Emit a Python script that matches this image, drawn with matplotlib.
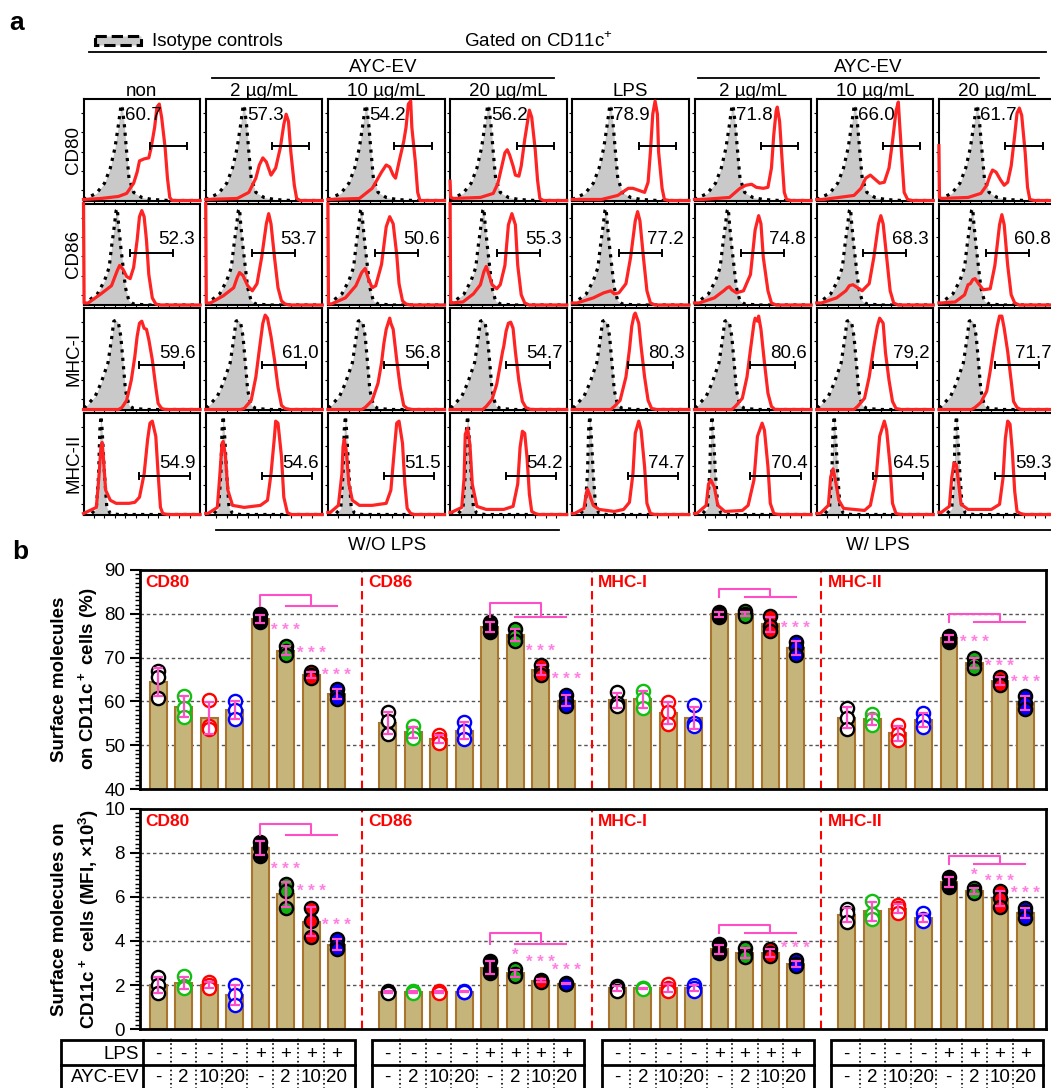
import numpy as np
import matplotlib
matplotlib.use('Agg')
import matplotlib.pyplot as plt
from matplotlib.patches import Rectangle
from matplotlib.ticker import MultipleLocator

plt.rcParams['font.family'] = ['Liberation Sans', 'DejaVu Sans']
plt.rcParams['mathtext.fontset'] = 'custom'
plt.rcParams['mathtext.rm'] = 'Liberation Sans'
plt.rcParams['mathtext.bf'] = 'Liberation Sans:bold'

W, H = 1051, 1088

# ---------------- panel a: flow histograms ----------------
col_labels = ['non', '2 µg/mL', '10 µg/mL', '20 µg/mL', 'LPS', '2 µg/mL', '10 µg/mL', '20 µg/mL']
row_labels = ['CD80', 'CD86', 'MHC-I', 'MHC-II']
gated_pct = [[60.7, 57.3, 54.2, 56.2, 78.9, 71.8, 66.0, 61.7],
             [52.3, 53.7, 50.6, 55.3, 77.2, 74.8, 68.3, 60.8],
             [59.6, 61.0, 56.8, 54.7, 80.3, 80.6, 79.2, 71.7],
             [54.9, 54.6, 51.5, 54.2, 74.7, 70.4, 64.5, 59.3]]

# isotype control curves, (x %, y % of max)
iso_cd80 = [(0, 1), (11, 7), (18, 17), (23, 32), (27, 52), (30, 75), (32, 92), (33, 94), (35, 75),
            (37, 48), (39, 22), (43, 8), (50, 3), (59, 1), (73, 0), (100, 0)]
iso_cd86 = [(0, 0), (4, 4), (12, 11), (18, 24), (22, 37), (24, 57), (26, 74), (28, 93), (29, 95),
            (30, 80), (32, 57), (34, 37), (36, 17), (39, 4), (43, 1), (55, 0), (100, 0)]
iso_mhc1 = [(0, 2), (2, 3), (10, 13), (15, 26), (21, 46), (24, 69), (26, 87), (28, 88), (30, 85),
            (32, 72), (34, 46), (36, 19), (39, 4), (43, 1), (55, 0), (100, 0)]
iso_mhc2 = [(0, 0), (7, 1), (11, 6), (13, 40), (14, 83), (15, 97), (16, 83), (18, 40), (20, 7),
            (23, 1), (30, 0), (100, 0)]

# stained samples, one curve per column
red_cd80 = [
    [(0, 1), (15, 2), (30, 4), (37, 7), (43, 17), (46, 28), (48, 39), (52, 41), (56, 42), (58, 52),
     (61, 72), (63, 92), (65, 95), (67, 82), (70, 52), (72, 22), (74, 3), (76, 0), (100, 0)],
    [(0, 1), (27, 2), (37, 8), (43, 22), (46, 35), (49, 42), (52, 38), (56, 25), (60, 32), (64, 52),
     (67, 75), (69, 85), (71, 78), (73, 48), (76, 15), (78, 2), (81, 0), (100, 0)],
    [(0, 1), (27, 2), (38, 12), (46, 28), (50, 35), (53, 33), (56, 25), (58, 22), (61, 38), (65, 58),
     (67, 72), (69, 95), (71, 98), (72, 72), (75, 38), (77, 8), (79, 0), (100, 0)],
    [(0, 19), (0.5, 3), (3, 2), (26, 3), (37, 7), (41, 17), (44, 32), (47, 47), (49, 50), (51, 45),
     (54, 34), (56, 25), (59, 24), (61, 34), (64, 60), (67, 82), (68, 89), (70, 82), (73, 50),
     (75, 20), (77, 2), (80, 0), (100, 0)],
    [(0, 1), (25, 1), (39, 5), (48, 12), (52, 12), (57, 10), (62, 8), (65, 18), (67, 48), (69, 85),
     (71, 98), (73, 85), (74, 48), (77, 12), (79, 1), (83, 0), (100, 0)],
    [(0, 1), (7, 1), (30, 3), (39, 12), (44, 15), (49, 16), (53, 13), (59, 12), (63, 13), (66, 32),
     (68, 65), (70, 88), (71, 92), (73, 78), (75, 42), (77, 8), (79, 1), (83, 0), (100, 0)],
    [(0, 1), (6, 1), (32, 5), (38, 12), (42, 22), (46, 25), (49, 22), (54, 17), (58, 18), (62, 32),
     (65, 58), (68, 88), (70, 97), (71, 78), (73, 42), (75, 8), (78, 1), (82, 0), (100, 0)],
    [(0, 54), (0.5, 3), (2, 2), (25, 3), (36, 7), (41, 15), (44, 25), (46, 30), (49, 28), (53, 20),
     (56, 15), (59, 18), (62, 34), (65, 64), (67, 86), (69, 91), (71, 84), (74, 47), (76, 13),
     (78, 1), (82, 0), (100, 0)],
]
red_cd86 = [
    [(0, 100), (0.5, 2), (4, 2), (15, 11), (24, 19), (29, 34), (31, 39), (34, 35), (37, 28), (40, 26),
     (43, 37), (46, 64), (48, 87), (50, 93), (52, 87), (54, 64), (56, 30), (59, 7), (62, 1), (66, 0),
     (100, 0)],
    [(0, 100), (0.5, 2), (4, 2), (15, 9), (24, 17), (27, 27), (29, 32), (32, 29), (36, 19), (40, 14),
     (44, 21), (48, 47), (52, 80), (54, 90), (56, 80), (59, 47), (62, 17), (65, 4), (68, 1), (72, 0),
     (100, 0)],
    [(0, 100), (0.5, 1), (3, 1), (15, 7), (24, 19), (29, 32), (32, 36), (35, 25), (38, 17), (41, 19),
     (46, 40), (50, 77), (53, 87), (56, 80), (59, 50), (61, 21), (64, 4), (67, 1), (71, 0), (100, 0)],
    [(0, 100), (0.5, 2), (1, 2), (11, 3), (20, 11), (26, 20), (29, 33), (31, 38), (33, 31), (36, 20),
     (40, 16), (43, 20), (47, 39), (50, 79), (53, 90), (56, 79), (58, 39), (61, 10), (64, 2), (68, 0),
     (100, 0)],
    [(0, 2), (4, 2), (18, 7), (27, 12), (33, 14), (36, 11), (40, 12), (46, 21), (50, 47), (54, 83),
     (56, 92), (58, 83), (61, 47), (64, 14), (67, 2), (71, 0), (100, 0)],
    [(0, 2), (4, 2), (17, 7), (25, 14), (28, 17), (30, 18), (32, 15), (36, 12), (42, 14), (48, 30),
     (52, 74), (55, 88), (57, 80), (59, 47), (63, 14), (66, 2), (70, 0), (100, 0)],
    [(0, 2), (4, 2), (17, 7), (25, 14), (28, 19), (31, 20), (35, 17), (39, 14), (45, 21), (49, 47),
     (53, 80), (55, 88), (57, 80), (60, 47), (63, 14), (66, 2), (70, 0), (100, 0)],
    [(0, 2), (2, 2), (14, 3), (22, 10), (25, 20), (27, 21), (29, 25), (31, 26), (34, 21), (38, 15),
     (44, 16), (48, 39), (52, 79), (54, 89), (56, 79), (59, 39), (62, 10), (65, 2), (69, 0), (100, 0)],
]
red_mhc1 = [
    [(0, 0), (30, 0), (33, 2), (37, 9), (41, 29), (44, 52), (46, 72), (48, 85), (50, 87), (52, 80),
     (54, 79), (56, 69), (59, 49), (62, 22), (64, 6), (67, 1), (70, 0), (100, 0)],
    [(0, 0), (30, 0), (33, 1), (39, 9), (43, 32), (46, 59), (49, 85), (51, 93), (53, 90), (56, 72),
     (59, 49), (62, 22), (65, 4), (68, 1), (72, 0), (100, 0)],
    [(0, 0), (29, 0), (32, 2), (38, 9), (43, 26), (46, 46), (48, 65), (50, 79), (53, 90), (54, 85),
     (56, 79), (59, 49), (62, 22), (65, 4), (68, 1), (72, 0), (100, 0)],
    [(0, 0), (28, 0), (31, 3), (36, 10), (40, 25), (43, 44), (45, 57), (46, 62), (48, 77), (50, 85),
     (52, 86), (54, 80), (56, 57), (59, 28), (62, 8), (65, 2), (69, 0), (100, 0)],
    [(0, 0), (33, 0), (36, 3), (41, 9), (46, 32), (49, 59), (51, 82), (53, 93), (54, 95), (57, 85),
     (59, 62), (62, 32), (65, 9), (68, 1), (72, 0), (100, 0)],
    [(0, 0), (32, 0), (35, 3), (41, 11), (45, 32), (48, 59), (51, 85), (52, 90), (54, 87), (55, 92),
     (57, 79), (60, 46), (63, 16), (66, 3), (69, 0), (100, 0)],
    [(0, 0), (32, 0), (35, 3), (41, 11), (45, 32), (49, 62), (52, 82), (54, 90), (57, 85), (59, 56),
     (62, 29), (65, 8), (68, 1), (72, 0), (100, 0)],
    [(0, 0), (28, 0), (31, 2), (36, 7), (41, 18), (44, 38), (47, 61), (50, 82), (52, 92), (54, 92),
     (56, 80), (59, 57), (62, 28), (64, 8), (67, 2), (70, 0), (100, 0)],
]
red_mhc2 = [
    [(0, 1), (11, 7), (13, 34), (15, 67), (16, 71), (17, 57), (19, 24), (23, 14), (28, 11), (39, 11),
     (44, 12), (48, 17), (52, 40), (55, 74), (57, 90), (59, 92), (62, 77), (64, 40), (66, 7), (68, 1),
     (72, 0), (100, 0)],
    [(0, 1), (2, 1), (10, 7), (12, 37), (14, 70), (15, 72), (17, 57), (19, 24), (23, 9), (33, 7),
     (47, 9), (53, 14), (56, 40), (59, 77), (60, 92), (62, 90), (65, 57), (67, 17), (70, 2), (73, 0),
     (100, 0)],
    [(0, 2), (2, 2), (9, 9), (12, 40), (13, 67), (14, 74), (16, 60), (18, 30), (21, 14), (27, 9),
     (38, 9), (50, 11), (54, 24), (57, 64), (59, 90), (61, 92), (64, 70), (66, 30), (68, 6), (71, 1),
     (74, 0), (100, 0)],
    [(0, 2), (1, 2), (10, 7), (12, 36), (13, 79), (15, 85), (17, 69), (19, 30), (23, 8), (31, 5),
     (46, 5), (54, 8), (58, 30), (60, 66), (62, 82), (64, 80), (66, 56), (68, 20), (70, 3), (73, 1),
     (76, 0), (100, 0)],
    [(0, 1), (2, 1), (10, 6), (12, 21), (13, 25), (15, 19), (18, 9), (23, 5), (36, 3), (44, 5),
     (49, 12), (52, 40), (54, 80), (57, 92), (59, 83), (62, 47), (64, 11), (67, 1), (71, 0), (100, 0)],
    [(0, 1), (2, 1), (10, 9), (12, 30), (14, 34), (17, 27), (20, 9), (26, 3), (41, 4), (46, 9),
     (51, 34), (54, 77), (58, 90), (60, 83), (63, 47), (65, 11), (68, 1), (72, 0), (100, 0)],
    [(0, 1), (3, 1), (10, 9), (12, 37), (14, 45), (16, 34), (19, 14), (23, 6), (41, 4), (46, 9),
     (51, 37), (54, 77), (58, 92), (60, 83), (63, 47), (65, 11), (68, 1), (72, 0), (100, 0)],
    [(0, 2), (2, 2), (9, 8), (11, 36), (13, 51), (15, 49), (17, 30), (19, 10), (25, 5), (45, 5),
     (52, 10), (55, 36), (57, 75), (59, 92), (61, 89), (63, 62), (65, 23), (67, 3), (70, 1), (73, 0),
     (100, 0)],
]
iso_curves = [iso_cd80, iso_cd86, iso_mhc1, iso_mhc2]
red_curves = [red_cd80, red_cd86, red_mhc1, red_mhc2]
gate_bars = [(57, 89, 54), (40, 77, 51), (48, 86, 44), (48, 91, 38)]

# ---------------- panel b: bar charts ----------------
group_names = ['CD80', 'CD86', 'MHC-I', 'MHC-II']
lps_row = ['-', '-', '-', '-', '+', '+', '+', '+']
ev_row = ['-', '2', '10', '20', '-', '2', '10', '20']

pct_points = [
    [67.0, 65.5, 60.8], [61.3, 58.5, 56.5], [60.3, 54.3, 53.8], [60.0, 58.0, 56.0],
    [79.8, 78.8, 78.0], [72.6, 71.5, 70.5], [66.8, 66.0, 65.4], [62.8, 61.5, 60.6],
    [57.5, 55.5, 52.5], [54.3, 52.8, 51.7], [52.3, 51.5, 50.5], [55.3, 53.3, 51.5],
    [78.0, 77.0, 75.8], [76.5, 75.0, 73.8], [68.3, 67.0, 66.0], [61.5, 60.0, 59.0],
    [62.2, 59.6, 59.0], [62.4, 60.5, 58.6], [59.8, 57.5, 54.8], [59.2, 55.0, 54.5],
    [80.3, 79.8, 79.3], [80.5, 79.8, 79.4], [79.4, 77.2, 76.0], [73.6, 72.3, 70.6],
    [58.6, 56.3, 53.8], [57.2, 56.0, 54.6], [54.6, 52.5, 51.2], [57.3, 55.8, 54.2],
    [75.0, 74.4, 73.6], [70.0, 68.6, 67.6], [65.5, 64.5, 63.8], [61.3, 59.6, 58.2],
]
mfi_points = [
    [2.35, 2.0, 1.65], [2.42, 1.98, 1.88], [2.15, 2.0, 1.85], [2.0, 1.55, 1.1],
    [8.5, 8.25, 7.85], [6.6, 6.25, 5.5], [5.5, 4.9, 4.2], [4.08, 3.8, 3.62],
    [1.75, 1.7, 1.65], [1.72, 1.68, 1.65], [1.72, 1.68, 1.65], [1.74, 1.7, 1.67],
    [3.1, 2.7, 2.55], [2.72, 2.5, 2.4], [2.25, 2.2, 2.12], [2.1, 2.07, 2.04],
    [1.95, 1.85, 1.75], [1.88, 1.85, 1.82], [2.05, 1.85, 1.72], [2.0, 1.85, 1.72],
    [3.85, 3.55, 3.45], [3.7, 3.4, 3.25], [3.65, 3.45, 3.3], [3.12, 2.95, 2.85],
    [5.45, 5.25, 4.85], [5.8, 5.2, 5.0], [5.65, 5.5, 5.25], [5.25, 5.0, 4.9],
    [6.9, 6.6, 6.45], [6.4, 6.25, 6.15], [6.25, 5.95, 5.55], [5.5, 5.3, 5.05],
]
# significance marks (bar index -> mark, height)
pct_stars = {5: ('***', 76.1), 6: ('***', 71.0), 7: ('***', 66.0),
             14: ('***', 71.4), 15: ('***', 65.0),
             23: ('***', 76.5),
             29: ('***', 73.5), 30: ('***', 68.0), 31: ('***', 64.2)}
mfi_stars = {5: ('***', 7.24), 6: ('***', 6.22), 7: ('***', 4.69),
             13: ('*', 3.37), 14: ('***', 3.0), 15: ('***', 2.65),
             23: ('***', 3.64),
             29: ('*', 6.98), 30: ('***', 6.7), 31: ('***', 6.13)}
pct_bracket_top = [84.3, 82.5, 85.5, 80.0]
pct_bracket_base = [81.8, 79.2, 83.7, 78.1]
mfi_bracket_top = [9.31, 4.36, 4.72, 7.83]
mfi_bracket_base = [8.8, 3.87, 4.36, 7.47]

BAR_FILL = '#c6b57b'
BAR_EDGE = '#a8742e'
PINK = '#ff4fc8'
STAR_PINK = '#ff7ee0'
FACES = ['white', 'white', 'white', 'white', 'black', '#10b010', '#ff0000', '#0000ff']
EDGES = ['black', '#10c010', '#ff0000', '#0000ff', 'black', 'black', 'black', 'black']
XLIM = (-0.73, 34.8)
FS = 13.5


def px_axes(fig, x0, y0, x1, y1):
    """add an axes given its box in pixels from the top-left corner"""
    return fig.add_axes([x0 / W, 1 - y1 / H, (x1 - x0) / W, (y1 - y0) / H])


def draw_hist(ax, iso, red, value, row):
    ix, iy = zip(*iso)
    ax.fill_between(ix, iy, color='#c9c9c9', lw=0, zorder=1)
    ax.plot(ix, iy, color='black', ls=':', lw=2.3, zorder=3)
    rx, ry = zip(*red)
    ax.plot(rx, ry, color='#ff2424', lw=2.3, zorder=4, clip_on=False, solid_joinstyle='round')
    g0, g1, gy = gate_bars[row]
    ax.plot([g0, g1], [gy, gy], color='black', lw=1.4, zorder=5)
    ax.plot([g0, g0], [gy - 3, gy + 3], color='black', lw=1.4, zorder=5)
    ax.plot([g1, g1], [gy - 3, gy + 3], color='black', lw=1.4, zorder=5)
    lx, ly = [(51, 84), (80, 65), (81, 55), (81, 50)][row]
    ax.text(lx, ly, f'{value:.1f}', ha='center', va='center', fontsize=FS, zorder=6, clip_on=False)
    ax.set_xlim(0, 100)
    ax.set_ylim(0, 100)
    ax.set_xticks([9, 18, 27, 36, 45, 55, 64, 73, 82, 91])
    ax.set_yticks([10, 29, 48, 67, 86])
    ax.tick_params(length=2.5, width=0.8, labelbottom=False, labelleft=False)
    for s in ax.spines.values():
        s.set_linewidth(1.5)


def draw_panel_a(fig, ov):
    for r in range(4):
        for c in range(8):
            x0 = 83.5 + c * 122.2
            y0 = [99, 203.5, 308, 413][r]
            ax = px_axes(fig, x0, y0, x0 + 116.6, y0 + 101.5)
            draw_hist(ax, iso_curves[r], red_curves[r][c], gated_pct[r][c], r)
        ov.text(73.5, [99, 203.5, 308, 413][r] + 50.7, row_labels[r], rotation=90,
                ha='center', va='center', fontsize=FS)
    for c in range(8):
        ov.text(83.5 + c * 122.2 + 58.3, 91, col_labels[c], ha='center', va='center', fontsize=FS)

    ov.text(17, 23, 'a', fontsize=19, fontweight='bold', ha='center', va='center')
    ov.add_patch(Rectangle((95, 35.5), 46, 9, facecolor='#c9c9c9', edgecolor='black',
                           ls='--', lw=2.2))
    ov.text(152, 41, 'Isotype controls', ha='left', va='center', fontsize=FS)
    ov.text(538, 41, 'Gated on CD11c$^{+}$', ha='center', va='center', fontsize=FS)
    ov.plot([88.6, 1045.7], [52.4, 52.4], color='black', lw=1.3)
    for xa, xb in [(212, 554), (698, 1039)]:
        ov.text((xa + xb) / 2, 68, 'AYC-EV', ha='center', va='center', fontsize=FS)
        ov.plot([xa, xb], [77.8, 77.8], color='black', lw=1.3)
    ov.plot([216, 559], [529.8, 529.8], color='black', lw=1.3)
    ov.plot([709, 1051], [529.8, 529.8], color='black', lw=1.3)
    ov.text(387, 545, 'W/O LPS', ha='center', va='center', fontsize=FS)
    ov.text(878, 545, 'W/ LPS', ha='center', va='center', fontsize=FS)


def draw_bars(ax, points, ylim, major, minor, stars, btop, bbase):
    pos = [9 * (i // 8) + i % 8 for i in range(len(points))]
    means = [np.mean(p) for p in points]
    sds = [np.std(p, ddof=1) for p in points]

    for y in major[1:-1]:
        ax.axhline(y, color='#555555', ls=(0, (2.5, 2)), lw=1, zorder=0)
    for g in range(1, 4):
        ax.axvline(9 * g - 1, color='red', ls=(0, (4, 2.5)), lw=1.5, zorder=1)

    ax.bar(pos, means, width=0.65, color=BAR_FILL, edgecolor=BAR_EDGE, lw=1.5, zorder=2)
    for i, p in enumerate(points):
        k = i % 8
        ax.plot([pos[i]] * len(p), p, 'o', ms=9.5, mfc=FACES[k], mec=EDGES[k], mew=1.7,
                zorder=3, clip_on=False)
    ax.errorbar(pos, means, yerr=sds, fmt='none', ecolor=PINK, elinewidth=1.6,
                capsize=3.5, capthick=1.6, zorder=4)

    for i, (mark, y) in stars.items():
        ax.text(pos[i], y, ' '.join(mark), color=STAR_PINK, ha='center', va='center',
                fontsize=12, fontweight='bold', zorder=5)

    for g in range(4):
        x4, x5, x6, x7 = 9 * g + 4, 9 * g + 5, 9 * g + 6, 9 * g + 7
        ax.plot([x4, x4, x6, x6], [bbase[g], btop[g], btop[g], bbase[g]], color=PINK, lw=1.5, zorder=5)
        ax.plot([x5, x7], [bbase[g], bbase[g]], color=PINK, lw=1.5, zorder=5)
        lx = [-0.5, 8.25, 17.25, 26.25][g]
        ax.text(lx, ylim[1] - (ylim[1] - ylim[0]) * 0.025, group_names[g], color='red',
                fontweight='bold', fontsize=12.5, ha='left', va='top', zorder=6)

    ax.set_xlim(*XLIM)
    ax.set_ylim(*ylim)
    ax.set_xticks([])
    ax.set_yticks(major)
    ax.yaxis.set_minor_locator(MultipleLocator(minor))
    ax.tick_params(axis='y', which='major', length=7, width=1.5, labelsize=FS)
    ax.tick_params(axis='y', which='minor', length=3.5, width=1)
    for s in ax.spines.values():
        s.set_linewidth(2)


def draw_table(fig):
    # two rows of 25 px; the lower edge falls just outside the picture
    ax = px_axes(fig, 139.6, 1040, 1045.7, 1090)
    ax.set_xlim(*XLIM)
    ax.set_ylim(0, 2)
    ax.axis('off')
    for g in range(4):
        x0 = -3.8 if g == 0 else 9 * g - 0.6
        x1 = 9 * g + 7.7
        ax.add_patch(Rectangle((x0, 0), x1 - x0, 2, fill=False, lw=2, edgecolor='black', clip_on=False))
        ax.plot([x0, x1], [1, 1], color='black', lw=2, clip_on=False)
        if g == 0:
            ax.plot([-0.6, -0.6], [0, 2], color='black', lw=2, clip_on=False)
            ax.text(-0.75, 1.42, 'LPS', ha='right', va='center', fontsize=FS, clip_on=False)
            ax.text(-0.75, 0.5, 'AYC-EV', ha='right', va='center', fontsize=FS, clip_on=False)
        for k in range(8):
            x = 9 * g + k
            ax.text(x, 1.42, lps_row[k], ha='center', va='center', fontsize=FS)
            ax.text(x, 0.5, ev_row[k], ha='center', va='center', fontsize=FS)
            if k < 7:
                ax.plot([x + 0.5, x + 0.5], [0, 2.12], color='black', ls=':', lw=1.2, clip_on=False)


def main():
    fig = plt.figure(figsize=(W / 100, H / 100), dpi=100)
    ov = fig.add_axes([0, 0, 1, 1])
    ov.set_xlim(0, W)
    ov.set_ylim(H, 0)
    ov.axis('off')

    draw_panel_a(fig, ov)

    ov.text(20, 552, 'b', fontsize=19, fontweight='bold', ha='center', va='center')
    ax1 = px_axes(fig, 139.6, 569.7, 1045.7, 789.2)
    draw_bars(ax1, pct_points, (40, 90), [40, 50, 60, 70, 80, 90], 1, pct_stars,
              pct_bracket_top, pct_bracket_base)
    ax2 = px_axes(fig, 139.6, 808.5, 1045.7, 1029.2)
    draw_bars(ax2, mfi_points, (0, 10), [0, 2, 4, 6, 8, 10], 0.2, mfi_stars,
              mfi_bracket_top, mfi_bracket_base)
    ov.text(76, 679, 'Surface molecules\non CD11c$^{\\bf +}$ cells (%)', rotation=90, ha='center',
            va='center', fontsize=FS, fontweight='bold', linespacing=1.45, multialignment='center')
    ov.text(76, 919, 'Surface molecules on\nCD11c$^{\\bf +}$ cells (MFI, ×10$^{\\bf 3}$)', rotation=90,
            ha='center', va='center', fontsize=FS, fontweight='bold', linespacing=1.45,
            multialignment='center')

    draw_table(fig)
    fig.savefig('out.png', dpi=100)


if __name__ == '__main__':
    main()
